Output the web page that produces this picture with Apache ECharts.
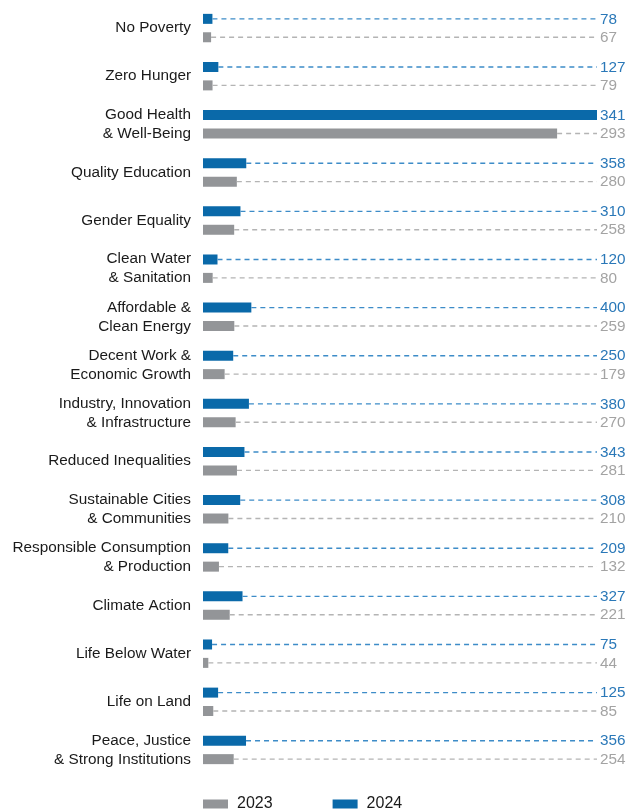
<!DOCTYPE html>
<html>
<head>
<meta charset="utf-8">
<script src="https://cdn.jsdelivr.net/npm/echarts@6/dist/echarts.min.js"></script>
<style>
  html, body { margin: 0; padding: 0; background: #fff; }
  #chart { width: 626px; height: 812px; }
</style>
</head>
<body>
<div id="chart"></div>
<script>
// SDG categories, top to bottom
const categories = [
  'No Poverty',
  'Zero Hunger',
  'Good Health\n& Well-Being',
  'Quality Education',
  'Gender Equality',
  'Clean Water\n& Sanitation',
  'Affordable &\nClean Energy',
  'Decent Work &\nEconomic Growth',
  'Industry, Innovation\n& Infrastructure',
  'Reduced Inequalities',
  'Sustainable Cities\n& Communities',
  'Responsible Consumption\n& Production',
  'Climate Action',
  'Life Below Water',
  'Life on Land',
  'Peace, Justice\n& Strong Institutions'
];

const values2024 = [78, 127, 3410, 358, 310, 120, 400, 250, 380, 343, 308, 209, 327, 75, 125, 356];
const values2023 = [67, 79, 2930, 280, 258, 80, 259, 179, 270, 281, 210, 132, 221, 44, 85, 254];

const FONT = '"Liberation Sans", Arial, sans-serif';

const BLUE = '#0a69a9';
const BLUE_LINE = '#3d8cc8';
const BLUE_TEXT = '#2a78b8';
const GREY = '#939598';
const GREY_LINE = '#b4b4b4';
const GREY_TEXT = '#a3a3a3';

// Bar + leader line + value label, offset vertically within the category band
function makeRenderer(offset, barColor, lineColor, textColor) {
  return function (params, api) {
    const cat = api.value(1);
    const v = api.value(0);
    const start = api.coord([0, cat]);
    const end = api.coord([v, cat]);
    const cs = params.coordSys;
    const right = cs.x + cs.width;
    const y = start[1] + offset;
    const xEnd = Math.min(end[0], right);
    return {
      type: 'group',
      children: [
        {
          type: 'rect',
          shape: { x: start[0], y: y - 5, width: xEnd - start[0], height: 10 },
          style: { fill: barColor }
        },
        {
          type: 'line',
          shape: { x1: xEnd, y1: y, x2: right, y2: y },
          style: { stroke: lineColor, lineWidth: 1.3, lineDash: [5, 4] }
        },
        {
          type: 'text',
          x: right + 3,
          y: y + 0.5,
          style: {
            text: String(v),
            fill: textColor,
            font: '15.3px ' + FONT,
            textAlign: 'left',
            textVerticalAlign: 'middle'
          }
        }
      ]
    };
  };
}

const chart = echarts.init(document.getElementById('chart'), null, { renderer: 'canvas' });

chart.setOption({
  animation: false,
  backgroundColor: '#ffffff',
  grid: { left: 203, right: 29, top: 4, bottom: 38, containLabel: false, outerBoundsMode: 'none' },
  xAxis: {
    type: 'value',
    min: 0,
    max: 3260,
    show: false
  },
  yAxis: {
    type: 'category',
    data: categories,
    inverse: true,
    axisLine: { show: false },
    axisTick: { show: false },
    splitLine: { show: false },
    axisLabel: {
      margin: 12,
      fontFamily: FONT,
      fontSize: 15.3,
      lineHeight: 19,
      color: '#1a1a1a',
      align: 'right'
    }
  },
  legend: {
    left: 203,
    top: 796,
    padding: 0,
    itemWidth: 25,
    itemHeight: 9,
    itemGap: 60,
    icon: 'rect',
    textStyle: { fontFamily: FONT, fontSize: 16, color: '#1a1a1a', padding: [0, 0, 0, 4] },
    data: ['2023', '2024']
  },
  series: [
    {
      name: '2024',
      type: 'custom',
      itemStyle: { color: BLUE },
      renderItem: makeRenderer(-9.2, BLUE, BLUE_LINE, BLUE_TEXT),
      data: values2024.map((v, i) => [v, i]),
      encode: { x: 0, y: 1 },
      clip: false
    },
    {
      name: '2023',
      type: 'custom',
      itemStyle: { color: GREY },
      renderItem: makeRenderer(9.2, GREY, GREY_LINE, GREY_TEXT),
      data: values2023.map((v, i) => [v, i]),
      encode: { x: 0, y: 1 },
      clip: false
    }
  ]
});
</script>
</body>
</html>
